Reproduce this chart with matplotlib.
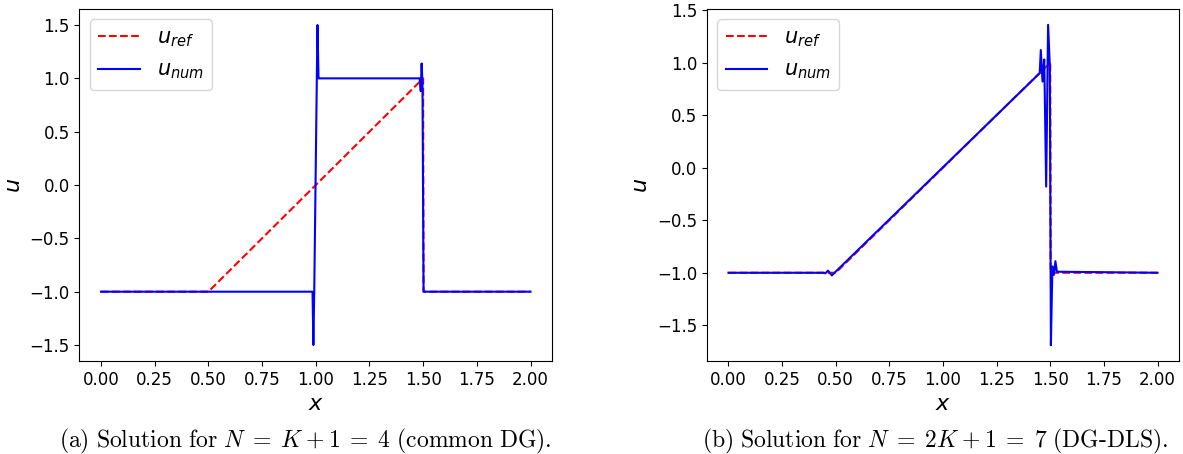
import numpy as np
import matplotlib
matplotlib.use("Agg")
import matplotlib.pyplot as plt

plt.rcParams["mathtext.fontset"] = "dejavusans"

# reference solution (same on both panels): rarefaction then shock
x_ref = [0.0, 0.5, 1.5, 1.502, 2.0]
u_ref = [-1.0, -1.0, 1.0, -1.0, -1.0]

# (a) common DG, N = K + 1 = 4
x_num_a = [0.0, 0.985, 0.989, 0.993, 1.008, 1.013, 1.484, 1.489, 1.493, 1.497, 1.502, 2.0]
u_num_a = [-1.0, -1.0, -1.5, -1.0, 1.5, 1.0, 1.0, 0.88, 1.14, 0.95, -1.0, -1.0]

# (b) DG-DLS, N = 2K + 1 = 7
x_num_b = [0.0, 0.442, 0.452, 0.464, 0.472, 0.482, 1.451, 1.456, 1.464, 1.472,
           1.481, 1.490, 1.498, 1.503, 1.510, 1.517, 1.524, 1.531, 2.0]
u_num_b = [-1.0, -1.0, -1.005, -0.98, -1.0, -1.025, 0.90, 1.12, 0.82, 1.03,
           -0.18, 1.36, 0.97, -1.69, -0.94, -1.02, -0.89, -0.99, -1.0]

captions = [r"$\mathrm{(a)\ Solution\ for\ }N\;=\;K\:+\:1\;=\;4\mathrm{\ (common\ DG).}$",
            r"$\mathrm{(b)\ Solution\ for\ }N\;=\;2K\:+\:1\;=\;7\mathrm{\ (DG\text{-}DLS).}$"]

fig = plt.figure(figsize=(11.83, 4.54), dpi=100)
ax_a = fig.add_axes([0.0672, 0.2048, 0.3994, 0.7753])
ax_b = fig.add_axes([0.5976, 0.2048, 0.3990, 0.7753])

for ax, xn, un in [(ax_a, x_num_a, u_num_a), (ax_b, x_num_b, u_num_b)]:
    ax.plot(x_ref, u_ref, "r--", lw=1.5, label=r"$u_{ref}$")
    ax.plot(xn, un, "b-", lw=1.5, label=r"$u_{num}$")
    ax.set_xlabel(r"$x$", fontsize=16)
    ax.set_ylabel(r"$u$", fontsize=16)
    ax.set_xticks(np.arange(0, 2.01, 0.25))
    ax.set_yticks(np.arange(-1.5, 1.51, 0.5))
    ax.tick_params(labelsize=12)
    ax.legend(loc="upper left", fontsize=15)

ax_a.set_xlim(-0.1, 2.1)
ax_a.set_ylim(-1.65, 1.65)
ax_b.set_xlim(-0.1, 2.1)
ax_b.set_ylim(-1.84, 1.51)

for cx, cap in zip([0.258, 0.79], captions):
    fig.text(cx, 0.028, cap, ha="center", va="center", fontsize=17,
             math_fontfamily="cm")

fig.savefig("out.png", dpi=100)
